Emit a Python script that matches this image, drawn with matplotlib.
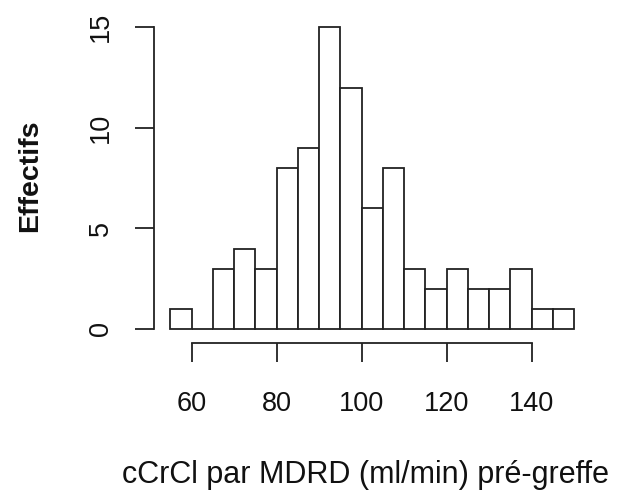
import matplotlib
matplotlib.use("Agg")
import matplotlib.pyplot as plt
import numpy as np

plt.rcParams['font.family'] = ['Liberation Sans', 'DejaVu Sans']

# Data
bin_edges = [55, 60, 65, 70, 75, 80, 85, 90, 95, 100, 105, 110, 115, 120, 125, 130, 135, 140, 145, 150]
counts = [1, 0, 3, 4, 3, 8, 9, 15, 12, 6, 8, 3, 2, 3, 2, 2, 3, 1, 1]
x_ticks = [60, 80, 100, 120, 140]
y_ticks = [0, 5, 10, 15]
x_label = "cCrCl par MDRD (ml/min) pré-greffe"
y_label = "Effectifs"

W, H = 632, 501
fig = plt.figure(figsize=(W / 100, H / 100), dpi=100)

# axes box in pixels (from top-left)
left_px, right_px, top_px, bottom_px = 154, 600, 15, 343
ax = fig.add_axes([left_px / W, (H - bottom_px) / H,
                   (right_px - left_px) / W, (bottom_px - top_px) / H])

# data -> pixel calibration
x0_px, x1_px = 191.7, 531.7   # x = 60, 140
xs = (x1_px - x0_px) / 80.0
y0_px, y15_px = 329.0, 27.3   # y = 0, 15
ys = (y0_px - y15_px) / 15.0
ax.set_xlim(60 + (left_px - x0_px) / xs, 60 + (right_px - x0_px) / xs)
ax.set_ylim(-(bottom_px - y0_px) / ys, (y0_px - top_px) / ys)

lc = '#222222'
lw = 1.3
ax.bar(bin_edges[:-1], counts, width=np.diff(bin_edges), align='edge',
       facecolor='white', edgecolor=lc, linewidth=lw)

for s in ['top', 'right']:
    ax.spines[s].set_visible(False)
ax.spines['left'].set_bounds(0, 15)
ax.spines['bottom'].set_bounds(60, 140)
for s in ['left', 'bottom']:
    ax.spines[s].set_linewidth(lw)
    ax.spines[s].set_color(lc)

ax.set_xticks(x_ticks)
ax.set_yticks(y_ticks)
ax.tick_params(axis='both', length=13.5, width=lw, color=lc, labelsize=19.5,
               labelcolor='#111111')
ax.tick_params(axis='x', pad=21)
ax.tick_params(axis='y', pad=19.5)
for lab in ax.get_yticklabels():
    lab.set_rotation(90)
    lab.set_rotation_mode('anchor')
    lab.set_ha('center')
    lab.set_va('baseline')

fig.text(366 / W, (H - 483) / H, x_label, ha='center', va='baseline',
         fontsize=22, color='#111111')
fig.text(37 / W, (H - 176) / H, y_label, rotation=90, rotation_mode='anchor',
         ha='center', va='baseline', fontsize=20.5, fontweight='bold', color='#111111')

fig.savefig('out.png', dpi=100)
